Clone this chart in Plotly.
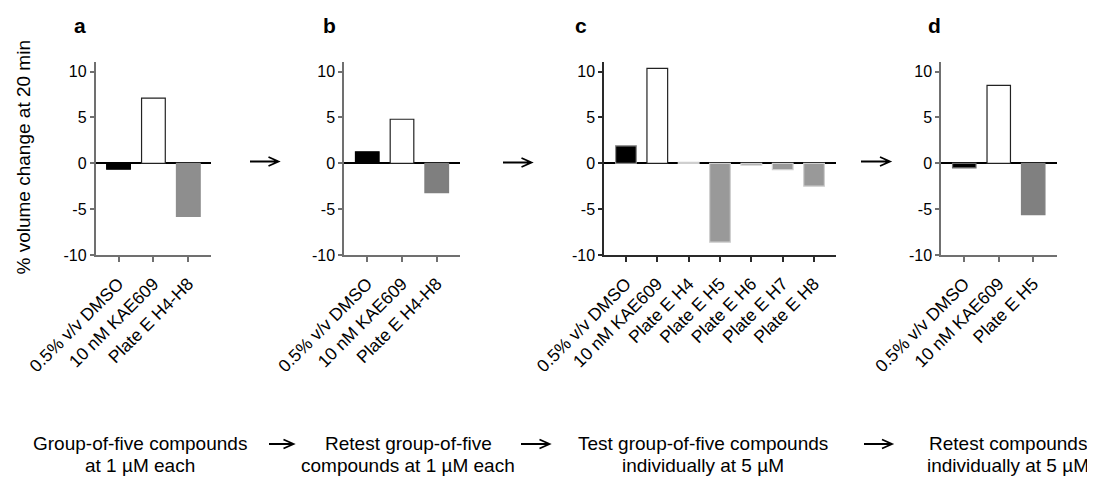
import plotly.graph_objects as go

# ---------------- data ----------------
cats_a = ["0.5% v/v DMSO", "10 nM KAE609", "Plate E H4-H8"]
vals_a = [-0.65, 7.1, -5.8]

cats_b = ["0.5% v/v DMSO", "10 nM KAE609", "Plate E H4-H8"]
vals_b = [1.25, 4.8, -3.2]

cats_c = ["0.5% v/v DMSO", "10 nM KAE609", "Plate E H4", "Plate E H5",
          "Plate E H6", "Plate E H7", "Plate E H8"]
vals_c = [1.9, 10.35, 0.1, -8.6, -0.2, -0.7, -2.5]

cats_d = ["0.5% v/v DMSO", "10 nM KAE609", "Plate E H5"]
vals_d = [-0.5, 8.5, -5.6]

y_ticks = [-10, -5, 0, 5, 10]
y_ticktext = ["-10", "-5", "0", "5", "10"]

panel_letters = ["a", "b", "c", "d"]
step_texts = ["Group-of-five compounds<br>at 1 µM each",
              "Retest group-of-five<br>compounds at 1 µM each",
              "Test group-of-five compounds<br>individually at 5 µM",
              "Retest compounds<br>individually at 5 µM"]
y_title = "% volume change at 20 min"

# ---------------- layout helpers ----------------
# The page body adds an 8 px offset; coordinates below are in window pixels.
OFF = 8
W, H = 1095 - OFF, 477 - OFF
FONT = "Liberation Sans, Arial, sans-serif"


def px(x):
    return (x - OFF) / W


def py(y):
    return 1 - (y - OFF) / H


panels = [
    dict(cats=cats_a, vals=vals_a, dom=(95.5, 211), xr=[-0.66, 2.65],
         colors=["#000000", "#ffffff", "#8e8e8e"],
         lines=["#000000", "#222222", "#8e8e8e"], width=0.68, axcol="#707070"),
    dict(cats=cats_b, vals=vals_b, dom=(344, 460), xr=[-0.67, 2.67],
         colors=["#000000", "#ffffff", "#7f7f7f"],
         lines=["#000000", "#222222", "#7f7f7f"], width=0.68, axcol="#707070"),
    dict(cats=cats_c, vals=vals_c, dom=(604, 836), xr=[-0.70, 6.70],
         colors=["#000000", "#ffffff"] + ["#999999"] * 5,
         lines=["#8a8a8a", "#222222"] + ["#cfcfcf"] * 5, width=0.66, axcol="#2a2a2a"),
    dict(cats=cats_d, vals=vals_d, dom=(941, 1057), xr=[-0.675, 2.69],
         colors=["#000000", "#ffffff", "#808080"],
         lines=["#6a6a6a", "#222222", "#808080"], width=0.68, axcol="#707070"),
]

y_dom = [py(255), py(62.4)]

fig = go.Figure()
for i, p in enumerate(panels):
    n = "" if i == 0 else str(i + 1)
    fig.add_trace(go.Bar(
        x=p["cats"], y=p["vals"], width=p["width"],
        marker=dict(color=p["colors"], line=dict(color=p["lines"], width=1.2)),
        xaxis="x" + n, yaxis="y" + n, showlegend=False, hoverinfo="x+y",
    ))
    fig.layout["xaxis" + n] = dict(
        domain=[px(p["dom"][0]), px(p["dom"][1])], anchor="y" + n,
        type="category", range=p["xr"], showline=True, linecolor=p["axcol"],
        linewidth=1.5, ticks="outside", ticklen=5, tickwidth=1.5, tickcolor=p["axcol"],
        tickangle=-45, tickfont=dict(family=FONT, size=17.5, color="#000"),
        ticklabelstandoff=5,
        showgrid=False, zeroline=False, fixedrange=True, automargin=False,
    )
    fig.layout["yaxis" + n] = dict(
        domain=y_dom, anchor="x" + n, range=[-10, 11],
        tickvals=y_ticks, ticktext=y_ticktext,
        showline=True, linecolor=p["axcol"], linewidth=1.5,
        ticks="outside", ticklen=4, tickwidth=1.5, tickcolor=p["axcol"],
        tickfont=dict(family=FONT, size=16, color="#000"),
        showgrid=False, zeroline=True, zerolinecolor="#000", zerolinewidth=1.8,
        fixedrange=True, automargin=False,
    )

annotations = []
letter_x = [80, 329, 581, 934]
for L, x in zip(panel_letters, letter_x):
    annotations.append(dict(text="<b>%s</b>" % L, x=px(x), y=py(26), xref="paper",
                            yref="paper", showarrow=False, xanchor="center",
                            yanchor="middle", font=dict(family=FONT, size=21, color="#000")))

step_x = [140, 408, 703, 1008]
line_y = [443.5, 465.5]
for t, x in zip(step_texts, step_x):
    for line, y in zip(t.split("<br>"), line_y):
        annotations.append(dict(text=line, x=px(x), y=py(y), xref="paper", yref="paper",
                                showarrow=False, xanchor="center", yanchor="middle",
                                font=dict(family=FONT, size=19, color="#000")))

annotations.append(dict(text=y_title, x=px(23), y=py(157.5), xref="paper", yref="paper",
                        showarrow=False, textangle=-90, xanchor="center", yanchor="middle",
                        font=dict(family=FONT, size=19, color="#000")))

shapes = []
arrows = [(250, 278.5, 161.5), (503, 531.5, 162.5), (861, 890, 161.5),
          (269, 293.5, 444), (521, 549.5, 444), (864, 892, 444)]
for x0, x1, y in arrows:
    path = (f"M {px(x0)},{py(y)} L {px(x1)},{py(y)} "
            f"M {px(x1 - 10)},{py(y - 4.5)} L {px(x1)},{py(y)} L {px(x1 - 10)},{py(y + 4.5)}")
    shapes.append(dict(type="path", path=path, xref="paper", yref="paper",
                       line=dict(color="#000", width=1.8)))

fig.update_layout(
    width=W, height=H, margin=dict(l=0, r=0, t=0, b=0, pad=0, autoexpand=False),
    paper_bgcolor="white", plot_bgcolor="white",
    annotations=annotations, shapes=shapes, bargap=0.3,
    font=dict(family=FONT, color="#000"),
)

fig.write_html("out.html")
